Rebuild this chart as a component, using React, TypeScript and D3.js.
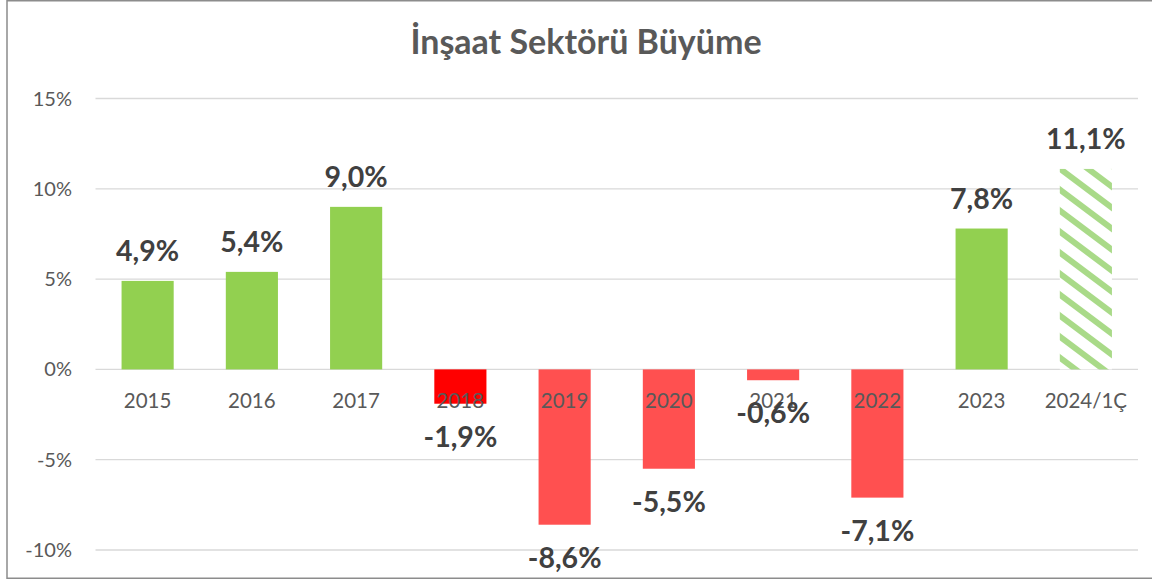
import React from "react";
import * as d3 from "d3";

const categories = ["2015", "2016", "2017", "2018", "2019", "2020", "2021", "2022", "2023", "2024/1Ç"];
const values = [4.9, 5.4, 9.0, -1.9, -8.6, -5.5, -0.6, -7.1, 7.8, 11.1];
const barKinds = ["pos", "pos", "pos", "neg2018", "neg", "neg", "neg", "neg", "pos", "hatch"];
const yTicks = [-10, -5, 0, 5, 10, 15];
const title = "İnşaat Sektörü Büyüme";

const W = 1152;
const H = 583;
const FONT = "Lato, 'Open Sans', sans-serif";

const fmt = (v: number) => v.toFixed(1).replace(".", ",") + "%";

export default function App() {
  const x = d3.scaleBand<string>().domain(categories).range([95.5, 1138]).paddingInner(0.5).paddingOuter(0.25);
  const y = d3.scaleLinear().domain([-10, 15]).range([550, 98.5]);

  const fillFor = (k: string) =>
    k === "pos" ? "#92D050" : k === "neg2018" ? "#FF0000" : k === "neg" ? "#FF5050" : "url(#hatch)";

  const pw = 28;
  const ph = 21;
  const hatchPath = [-2, -1, 0, 1, 2]
    .map((k) => `M${k * pw - pw},${-ph} L${k * pw + 2 * pw},${2 * ph}`)
    .join(" ");

  return (
    <svg width={W} height={H} style={{ position: "absolute", left: 0, top: 0, display: "block" }}>
      <defs>
        <pattern id="hatch" patternUnits="userSpaceOnUse" width={pw} height={ph} x={1059} y={0}>
          <rect width={pw} height={ph} fill="#ffffff" />
          <path d={hatchPath} stroke="#A9DA88" strokeWidth={6} />
        </pattern>
      </defs>
      <rect x={0} y={0} width={W} height={H} fill="#ffffff" />
      <rect x={7} y={0.75} width={W} height={577.5} fill="#ffffff" stroke="#8C8C8C" strokeWidth={1.5} />

      <text x={586} y={54} textAnchor="middle" fontFamily={FONT} fontWeight={700} fontSize={34} fill="#595959">
        {title}
      </text>

      {yTicks.map((t) => (
        <g key={t}>
          <line x1={95.5} x2={1138} y1={y(t)} y2={y(t)} stroke="#D9D9D9" strokeWidth={1.3} />
          <text x={72} y={y(t) + 7} textAnchor="end" fontFamily={FONT} fontSize={20} fill="#595959">
            {t + "%"}
          </text>
        </g>
      ))}

      {categories.map((c, i) => {
        const v = values[i];
        const y0 = y(0);
        const y1 = y(v);
        return (
          <rect
            key={c}
            x={x(c)}
            width={x.bandwidth()}
            y={Math.min(y0, y1)}
            height={Math.abs(y1 - y0)}
            fill={fillFor(barKinds[i])}
          />
        );
      })}

      {categories.map((c) => (
        <text
          key={"t" + c}
          x={(x(c) as number) + x.bandwidth() / 2}
          y={408}
          textAnchor="middle"
          fontFamily={FONT}
          fontSize={20.5}
          fill="#595959"
        >
          {c}
        </text>
      ))}

      {categories.map((c, i) => {
        const v = values[i];
        const ly = v >= 0 ? y(v) - 20 : y(v) + 43;
        return (
          <text
            key={"l" + c}
            x={(x(c) as number) + x.bandwidth() / 2}
            y={ly}
            textAnchor="middle"
            fontFamily={FONT}
            fontWeight={700}
            fontSize={28.5}
            fill="#404040"
          >
            {fmt(v)}
          </text>
        );
      })}
    </svg>
  );
}
